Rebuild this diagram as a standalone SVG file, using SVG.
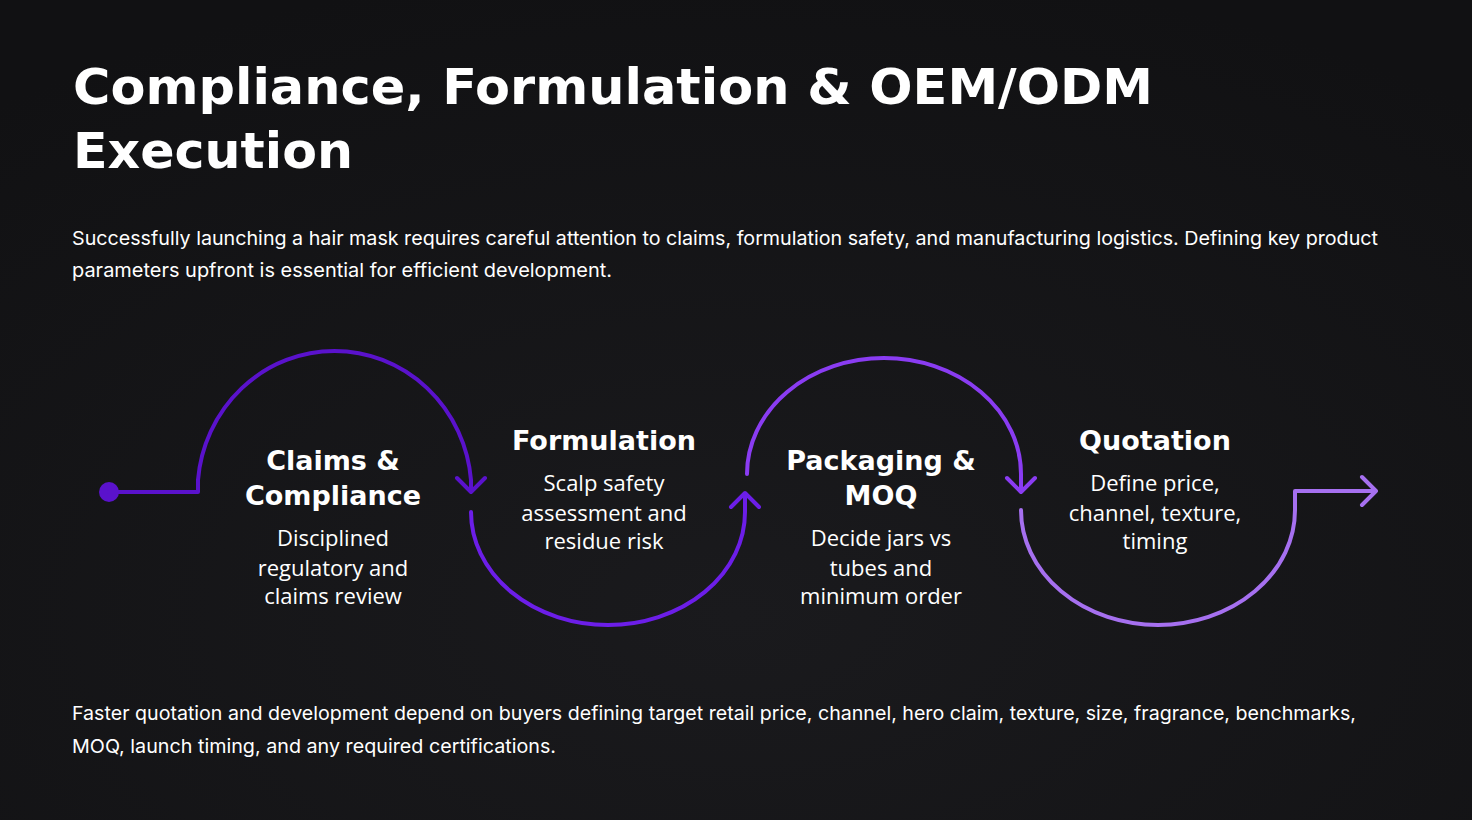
<svg xmlns="http://www.w3.org/2000/svg" width="1472" height="820" viewBox="0 0 1472 820">
<defs>
<radialGradient id="bg" cx="0.5" cy="0.75" r="0.8">
<stop offset="0" stop-color="#1a1a1d"/><stop offset="1" stop-color="#111113"/>
</radialGradient>
</defs>
<style>
.t{font-family:"DejaVu Sans",sans-serif;font-weight:bold;fill:#fff}
.p{font-family:Inter,"Noto Sans",sans-serif;font-size:19px;fill:#fff}
.h{font-family:"DejaVu Sans",sans-serif;font-weight:bold;font-size:27px;fill:#fff;text-anchor:middle}
.d{font-family:"Open Sans","Noto Sans",sans-serif;font-size:22px;fill:#fff;text-anchor:middle}
.c{fill:none;stroke-width:4;stroke-linecap:round;stroke-linejoin:round}
</style>
<rect width="1472" height="820" fill="url(#bg)"/>
<text class="t" x="73" y="104" font-size="50" textLength="1080" lengthAdjust="spacingAndGlyphs">Compliance, Formulation &amp; OEM/ODM</text>
<text class="t" x="73" y="168" font-size="50" textLength="280" lengthAdjust="spacingAndGlyphs">Execution</text>
<text class="p" x="72" y="245" textLength="1306" lengthAdjust="spacingAndGlyphs">Successfully launching a hair mask requires careful attention to claims, formulation safety, and manufacturing logistics. Defining key product</text>
<text class="p" x="72" y="277" textLength="540" lengthAdjust="spacingAndGlyphs">parameters upfront is essential for efficient development.</text>
<g id="connectors">
<circle cx="109" cy="492" r="10" fill="#5a12cc"/>
<path class="c" stroke="#5a12cc" d="M109,492 H198 V480 A137,141 0 0 1 471,480 V491 M457,478 L471,492 L485,478"/>
<path class="c" stroke="#6c1ee8" d="M471,512 A137,113 0 0 0 745,512 V494 M731,507 L745,493 L759,507"/>
<path class="c" stroke="#8a3cf2" d="M747,474 A137,116 0 0 1 1021,474 V491 M1007,478 L1021,492 L1035,478"/>
<path class="c" stroke="#a670f0" d="M1021,510 A137,115 0 0 0 1295,510 V491 H1376 M1362,477 L1376,491 L1362,505"/>
</g>
<g id="n1"><text class="h" x="333" y="470">Claims &amp;</text><text class="h" x="333" y="505">Compliance</text>
<text class="d" x="333" y="546">Disciplined</text><text class="d" x="333" y="576">regulatory and</text><text class="d" x="333" y="604">claims review</text></g>
<g id="n2"><text class="h" x="604" y="450">Formulation</text>
<text class="d" x="604" y="491">Scalp safety</text><text class="d" x="604" y="521">assessment and</text><text class="d" x="604" y="549">residue risk</text></g>
<g id="n3"><text class="h" x="881" y="470">Packaging &amp;</text><text class="h" x="881" y="505">MOQ</text>
<text class="d" x="881" y="546">Decide jars vs</text><text class="d" x="881" y="576">tubes and</text><text class="d" x="881" y="604">minimum order</text></g>
<g id="n4"><text class="h" x="1155" y="450">Quotation</text>
<text class="d" x="1155" y="491">Define price,</text><text class="d" x="1155" y="521">channel, texture,</text><text class="d" x="1155" y="549">timing</text></g>
<text class="p" x="72" y="720" textLength="1284" lengthAdjust="spacingAndGlyphs">Faster quotation and development depend on buyers defining target retail price, channel, hero claim, texture, size, fragrance, benchmarks,</text>
<text class="p" x="72" y="753" textLength="484" lengthAdjust="spacingAndGlyphs">MOQ, launch timing, and any required certifications.</text>
</svg>
